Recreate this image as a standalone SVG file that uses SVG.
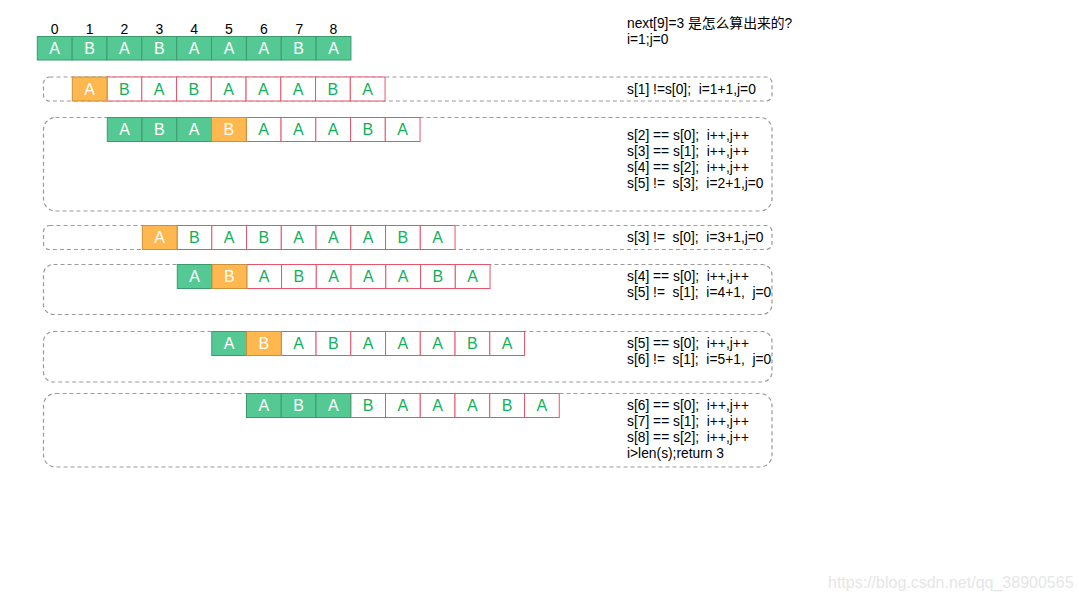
<svg xmlns="http://www.w3.org/2000/svg" width="1079" height="601" viewBox="0 0 1079 601">
<style>
.bg{fill:#ffffff}
.g{fill:#55c994;stroke:#3d9a6d;stroke-width:1}
.o{fill:#ffb74f;stroke:#c99139;stroke-width:1}
.w{fill:#ffffff;stroke:#e8546b;stroke-width:1}
.lw{font-family:"Liberation Sans",Arial,sans-serif;font-size:16px;fill:#ffffff;text-anchor:middle}
.lg{font-family:"Liberation Sans",Arial,sans-serif;font-size:16px;fill:#12b05c;text-anchor:middle}
.idx{font-family:"Liberation Sans",Arial,sans-serif;font-size:14px;fill:#000000;text-anchor:middle}
.note{font-family:"Liberation Sans",Arial,"Noto Sans CJK SC",sans-serif;font-size:13.8px;fill:#000000;white-space:pre}
.box{fill:none;stroke:#9a9a9a;stroke-width:1.2;stroke-dasharray:4 3}
.wm{font-family:"Liberation Sans",Arial,sans-serif;font-size:16px;fill:#e6e6e6}
</style>
<rect class="bg" x="0" y="0" width="1079" height="601"/>

<g id="frames">
<rect class="box" x="43.5" y="77" width="728.5" height="24" rx="6"/>
<rect class="box" x="43.5" y="117.5" width="728.5" height="93.5" rx="12"/>
<rect class="box" x="43.5" y="225.5" width="728.5" height="24" rx="6"/>
<rect class="box" x="43.5" y="264.5" width="728.5" height="50" rx="10"/>
<rect class="box" x="43.5" y="331.5" width="728.5" height="50.5" rx="10"/>
<rect class="box" x="43.5" y="393.5" width="728.5" height="73.5" rx="12"/>
</g>

<g id="title">
<text class="note" x="627" y="28">next[9]=3 是怎么算出来的?</text>
<text class="note" x="627" y="44">i=1;j=0</text>
</g>

<g id="source" transform="translate(37.3,36.5)">
<text class="idx" x="17.4" y="-3">0</text>
<text class="idx" x="52.3" y="-3">1</text>
<text class="idx" x="87.1" y="-3">2</text>
<text class="idx" x="122" y="-3">3</text>
<text class="idx" x="156.8" y="-3">4</text>
<text class="idx" x="191.7" y="-3">5</text>
<text class="idx" x="226.5" y="-3">6</text>
<text class="idx" x="262" y="-3">7</text>
<text class="idx" x="296" y="-3">8</text>
<rect class="g" x="0" y="0" width="34.85" height="23.5"/>
<rect class="g" x="34.85" y="0" width="34.85" height="23.5"/>
<rect class="g" x="69.7" y="0" width="34.85" height="23.5"/>
<rect class="g" x="104.55" y="0" width="34.85" height="23.5"/>
<rect class="g" x="139.4" y="0" width="34.85" height="23.5"/>
<rect class="g" x="174.25" y="0" width="34.85" height="23.5"/>
<rect class="g" x="209.1" y="0" width="34.85" height="23.5"/>
<rect class="g" x="243.95" y="0" width="34.85" height="23.5"/>
<rect class="g" x="278.8" y="0" width="34.85" height="23.5"/>
<text class="lw" x="17.4" y="17.5">A</text>
<text class="lw" x="52.3" y="17.5">B</text>
<text class="lw" x="87.1" y="17.5">A</text>
<text class="lw" x="122" y="17.5">B</text>
<text class="lw" x="156.8" y="17.5">A</text>
<text class="lw" x="191.7" y="17.5">A</text>
<text class="lw" x="226.5" y="17.5">A</text>
<text class="lw" x="261.4" y="17.5">B</text>
<text class="lw" x="296.2" y="17.5">A</text>
</g>

<g id="step1" transform="translate(72.3,77)">
<rect class="w" x="34.75" y="0" width="34.75" height="24"/>
<rect class="w" x="69.5" y="0" width="34.75" height="24"/>
<rect class="w" x="104.25" y="0" width="34.75" height="24"/>
<rect class="w" x="139" y="0" width="34.75" height="24"/>
<rect class="w" x="173.75" y="0" width="34.75" height="24"/>
<rect class="w" x="208.5" y="0" width="34.75" height="24"/>
<rect class="w" x="243.25" y="0" width="34.75" height="24"/>
<rect class="w" x="278" y="0" width="34.75" height="24"/>
<rect class="o" x="0" y="0" width="34.75" height="24"/>
<text class="lw" x="17.4" y="17.8">A</text>
<text class="lg" x="52.1" y="17.8">B</text>
<text class="lg" x="86.9" y="17.8">A</text>
<text class="lg" x="121.6" y="17.8">B</text>
<text class="lg" x="156.4" y="17.8">A</text>
<text class="lg" x="191.1" y="17.8">A</text>
<text class="lg" x="225.9" y="17.8">A</text>
<text class="lg" x="260.6" y="17.8">B</text>
<text class="lg" x="295.4" y="17.8">A</text>
<text class="note" x="554.7" y="16.5">s[1] !=s[0];  i=1+1,j=0</text>
</g>

<g id="step2" transform="translate(107.3,117.5)">
<rect class="w" x="139" y="0" width="34.75" height="24"/>
<rect class="w" x="173.75" y="0" width="34.75" height="24"/>
<rect class="w" x="208.5" y="0" width="34.75" height="24"/>
<rect class="w" x="243.25" y="0" width="34.75" height="24"/>
<rect class="w" x="278" y="0" width="34.75" height="24"/>
<rect class="g" x="0" y="0" width="34.75" height="24"/>
<rect class="g" x="34.75" y="0" width="34.75" height="24"/>
<rect class="g" x="69.5" y="0" width="34.75" height="24"/>
<rect class="o" x="104.25" y="0" width="34.75" height="24"/>
<text class="lw" x="17.4" y="17.8">A</text>
<text class="lw" x="52.1" y="17.8">B</text>
<text class="lw" x="86.9" y="17.8">A</text>
<text class="lw" x="121.6" y="17.8">B</text>
<text class="lg" x="156.4" y="17.8">A</text>
<text class="lg" x="191.1" y="17.8">A</text>
<text class="lg" x="225.9" y="17.8">A</text>
<text class="lg" x="260.6" y="17.8">B</text>
<text class="lg" x="295.4" y="17.8">A</text>
<text class="note" x="519.7" y="22.5">s[2] == s[0];  i++,j++</text>
<text class="note" x="519.7" y="38.5">s[3] == s[1];  i++,j++</text>
<text class="note" x="519.7" y="54.5">s[4] == s[2];  i++,j++</text>
<text class="note" x="519.7" y="70.5">s[5] !=  s[3];  i=2+1,j=0</text>
</g>

<g id="step3" transform="translate(142.3,225.5)">
<rect class="w" x="34.75" y="0" width="34.75" height="24"/>
<rect class="w" x="69.5" y="0" width="34.75" height="24"/>
<rect class="w" x="104.25" y="0" width="34.75" height="24"/>
<rect class="w" x="139" y="0" width="34.75" height="24"/>
<rect class="w" x="173.75" y="0" width="34.75" height="24"/>
<rect class="w" x="208.5" y="0" width="34.75" height="24"/>
<rect class="w" x="243.25" y="0" width="34.75" height="24"/>
<rect class="w" x="278" y="0" width="34.75" height="24"/>
<rect class="o" x="0" y="0" width="34.75" height="24"/>
<text class="lw" x="17.4" y="17.8">A</text>
<text class="lg" x="52.1" y="17.8">B</text>
<text class="lg" x="86.9" y="17.8">A</text>
<text class="lg" x="121.6" y="17.8">B</text>
<text class="lg" x="156.4" y="17.8">A</text>
<text class="lg" x="191.1" y="17.8">A</text>
<text class="lg" x="225.9" y="17.8">A</text>
<text class="lg" x="260.6" y="17.8">B</text>
<text class="lg" x="295.4" y="17.8">A</text>
<text class="note" x="484.7" y="16.5">s[3] !=  s[0];  i=3+1,j=0</text>
</g>

<g id="step4" transform="translate(177.3,264.5)">
<rect class="w" x="69.5" y="0" width="34.75" height="24"/>
<rect class="w" x="104.25" y="0" width="34.75" height="24"/>
<rect class="w" x="139" y="0" width="34.75" height="24"/>
<rect class="w" x="173.75" y="0" width="34.75" height="24"/>
<rect class="w" x="208.5" y="0" width="34.75" height="24"/>
<rect class="w" x="243.25" y="0" width="34.75" height="24"/>
<rect class="w" x="278" y="0" width="34.75" height="24"/>
<rect class="g" x="0" y="0" width="34.75" height="24"/>
<rect class="o" x="34.75" y="0" width="34.75" height="24"/>
<text class="lw" x="17.4" y="17.8">A</text>
<text class="lw" x="52.1" y="17.8">B</text>
<text class="lg" x="86.9" y="17.8">A</text>
<text class="lg" x="121.6" y="17.8">B</text>
<text class="lg" x="156.4" y="17.8">A</text>
<text class="lg" x="191.1" y="17.8">A</text>
<text class="lg" x="225.9" y="17.8">A</text>
<text class="lg" x="260.6" y="17.8">B</text>
<text class="lg" x="295.4" y="17.8">A</text>
<text class="note" x="449.7" y="16.5">s[4] == s[0];  i++,j++</text>
<text class="note" x="449.7" y="32.5">s[5] !=  s[1];  i=4+1,  j=0</text>
</g>

<g id="step5" transform="translate(211.8,331.5)">
<rect class="w" x="69.5" y="0" width="34.75" height="24"/>
<rect class="w" x="104.25" y="0" width="34.75" height="24"/>
<rect class="w" x="139" y="0" width="34.75" height="24"/>
<rect class="w" x="173.75" y="0" width="34.75" height="24"/>
<rect class="w" x="208.5" y="0" width="34.75" height="24"/>
<rect class="w" x="243.25" y="0" width="34.75" height="24"/>
<rect class="w" x="278" y="0" width="34.75" height="24"/>
<rect class="g" x="0" y="0" width="34.75" height="24"/>
<rect class="o" x="34.75" y="0" width="34.75" height="24"/>
<text class="lw" x="17.4" y="17.8">A</text>
<text class="lw" x="52.1" y="17.8">B</text>
<text class="lg" x="86.9" y="17.8">A</text>
<text class="lg" x="121.6" y="17.8">B</text>
<text class="lg" x="156.4" y="17.8">A</text>
<text class="lg" x="191.1" y="17.8">A</text>
<text class="lg" x="225.9" y="17.8">A</text>
<text class="lg" x="260.6" y="17.8">B</text>
<text class="lg" x="295.4" y="17.8">A</text>
<text class="note" x="415.2" y="16.5">s[5] == s[0];  i++,j++</text>
<text class="note" x="415.2" y="32.5">s[6] !=  s[1];  i=5+1,  j=0</text>
</g>

<g id="step6" transform="translate(246.5,393.5)">
<rect class="w" x="104.25" y="0" width="34.75" height="24"/>
<rect class="w" x="139" y="0" width="34.75" height="24"/>
<rect class="w" x="173.75" y="0" width="34.75" height="24"/>
<rect class="w" x="208.5" y="0" width="34.75" height="24"/>
<rect class="w" x="243.25" y="0" width="34.75" height="24"/>
<rect class="w" x="278" y="0" width="34.75" height="24"/>
<rect class="g" x="0" y="0" width="34.75" height="24"/>
<rect class="g" x="34.75" y="0" width="34.75" height="24"/>
<rect class="g" x="69.5" y="0" width="34.75" height="24"/>
<text class="lw" x="17.4" y="17.8">A</text>
<text class="lw" x="52.1" y="17.8">B</text>
<text class="lw" x="86.9" y="17.8">A</text>
<text class="lg" x="121.6" y="17.8">B</text>
<text class="lg" x="156.4" y="17.8">A</text>
<text class="lg" x="191.1" y="17.8">A</text>
<text class="lg" x="225.9" y="17.8">A</text>
<text class="lg" x="260.6" y="17.8">B</text>
<text class="lg" x="295.4" y="17.8">A</text>
<text class="note" x="380.5" y="16.5">s[6] == s[0];  i++,j++</text>
<text class="note" x="380.5" y="32.5">s[7] == s[1];  i++,j++</text>
<text class="note" x="380.5" y="48.5">s[8] == s[2];  i++,j++</text>
<text class="note" x="380.5" y="64.5">i&gt;len(s);return 3</text>
</g>

<text class="wm" x="828" y="588">https://blog.csdn.net/qq_38900565</text>
</svg>
